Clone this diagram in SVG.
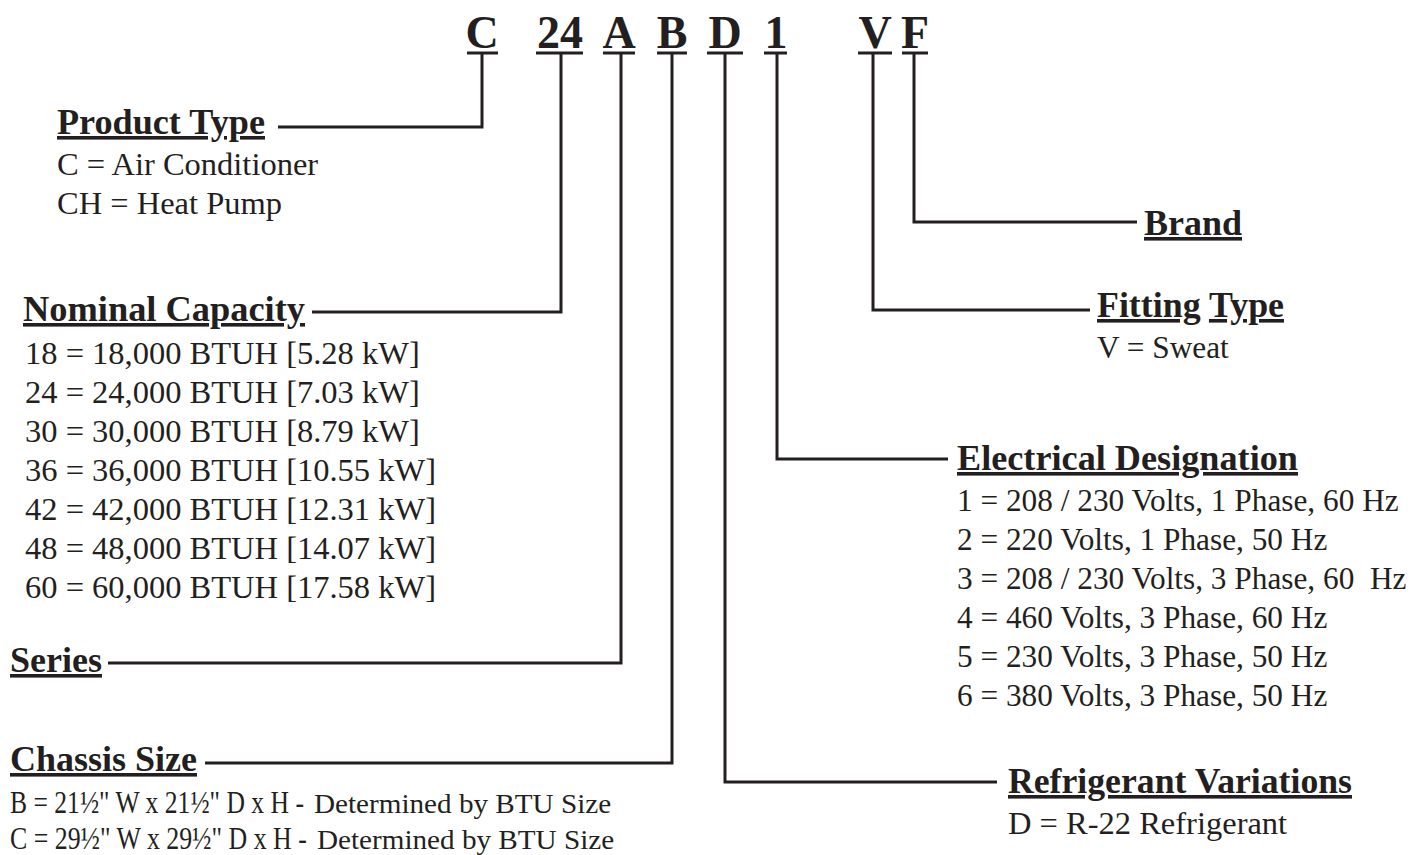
<svg xmlns="http://www.w3.org/2000/svg" width="1411" height="855" viewBox="0 0 1411 855">
<style>
text{font-family:"Liberation Serif","Times New Roman",serif;fill:#231f20}
.code{font-size:46px;font-weight:bold;text-anchor:middle}
.h{font-size:36px;font-weight:bold;text-decoration:underline}
.b{font-size:32.5px}
.e{font-size:31.3px}
.c{font-size:31px}
.s{font-size:27px}
.ln{fill:none;stroke:#231f20;stroke-width:3;stroke-linejoin:miter;stroke-linecap:butt}
.ul{stroke:#231f20;stroke-width:3}
</style>
<rect width="1411" height="855" fill="#fff"/>
<g id="code">
<text class="code" x="482" y="48">C</text>
<text class="code" x="560" y="48">24</text>
<text class="code" x="619" y="48">A</text>
<text class="code" x="672" y="48">B</text>
<text class="code" x="725" y="48">D</text>
<text class="code" x="776" y="48">1</text>
<text class="code" x="875" y="48">V</text>
<text class="code" x="915" y="48">F</text>
<line class="ul" x1="467" y1="53" x2="498" y2="53"/>
<line class="ul" x1="536" y1="53" x2="583" y2="53"/>
<line class="ul" x1="603" y1="53" x2="635" y2="53"/>
<line class="ul" x1="657" y1="53" x2="687" y2="53"/>
<line class="ul" x1="707" y1="53" x2="743" y2="53"/>
<line class="ul" x1="764" y1="53" x2="787" y2="53"/>
<line class="ul" x1="858" y1="53" x2="892" y2="53"/>
<line class="ul" x1="902" y1="53" x2="928" y2="53"/>
</g>
<g id="connectors">
<path class="ln" d="M482 53V127H278"/>
<path class="ln" d="M561 53V312H312"/>
<path class="ln" d="M621 53V663H108"/>
<path class="ln" d="M672 53V763H205"/>
<path class="ln" d="M725 53V782H997"/>
<path class="ln" d="M777 53V459H948"/>
<path class="ln" d="M873 53V310H1090"/>
<path class="ln" d="M914 53V222H1137"/>
</g>
<g id="product-type">
<text class="h" x="57" y="134" textLength="208" lengthAdjust="spacingAndGlyphs">Product Type</text>
<text class="b" x="57" y="175">C = Air Conditioner</text>
<text class="b" x="57" y="214">CH = Heat Pump</text>
</g>
<g id="nominal-capacity">
<text class="h" x="23" y="321" textLength="282" lengthAdjust="spacingAndGlyphs">Nominal Capacity</text>
<text class="b" x="25" y="364">18 = 18,000 BTUH [5.28 kW]</text>
<text class="b" x="25" y="403">24 = 24,000 BTUH [7.03 kW]</text>
<text class="b" x="25" y="442">30 = 30,000 BTUH [8.79 kW]</text>
<text class="b" x="25" y="481">36 = 36,000 BTUH [10.55 kW]</text>
<text class="b" x="25" y="520">42 = 42,000 BTUH [12.31 kW]</text>
<text class="b" x="25" y="559">48 = 48,000 BTUH [14.07 kW]</text>
<text class="b" x="25" y="598">60 = 60,000 BTUH [17.58 kW]</text>
</g>
<g id="series">
<text class="h" x="10" y="672" textLength="92" lengthAdjust="spacingAndGlyphs">Series</text>
</g>
<g id="chassis-size">
<text class="h" x="10" y="771" textLength="187" lengthAdjust="spacingAndGlyphs">Chassis Size</text>
<text class="c" transform="translate(10 813) scale(0.826 1)">B = 21½" W x 21½" D x H -</text>
<text class="s" transform="translate(314 813) scale(1.08 1)">Determined by BTU Size</text>
<text class="c" transform="translate(10 849) scale(0.834 1)">C = 29½" W x 29½" D x H -</text>
<text class="s" transform="translate(317 849) scale(1.08 1)">Determined by BTU Size</text>
</g>
<g id="electrical-designation">
<text class="h" x="957" y="470" textLength="341" lengthAdjust="spacingAndGlyphs">Electrical Designation</text>
<text class="e" x="957" y="511">1 = 208 / 230 Volts, 1 Phase, 60 Hz</text>
<text class="e" x="957" y="550">2 = 220 Volts, 1 Phase, 50 Hz</text>
<text class="e" x="957" y="589" xml:space="preserve">3 = 208 / 230 Volts, 3 Phase, 60  Hz</text>
<text class="e" x="957" y="628">4 = 460 Volts, 3 Phase, 60 Hz</text>
<text class="e" x="957" y="667">5 = 230 Volts, 3 Phase, 50 Hz</text>
<text class="e" x="957" y="706">6 = 380 Volts, 3 Phase, 50 Hz</text>
</g>
<g id="fitting-type">
<text x="1097" y="317" style="font-size:36px;font-weight:bold" textLength="187" lengthAdjust="spacingAndGlyphs"><tspan text-decoration="underline">Fitting</tspan> <tspan text-decoration="underline">Type</tspan></text>
<text class="e" x="1097" y="358">V = Sweat</text>
</g>
<g id="brand">
<text class="h" x="1144" y="235">Brand</text>
</g>
<g id="refrigerant-variations">
<text class="h" x="1008" y="793" textLength="344" lengthAdjust="spacingAndGlyphs">Refrigerant Variations</text>
<text class="b" x="1008" y="834">D = R-22 Refrigerant</text>
</g>
</svg>
